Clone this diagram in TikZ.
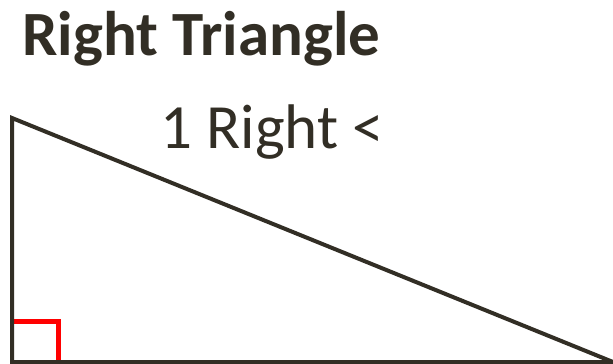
\documentclass[tikz,border=0pt]{standalone}
\usepackage{fontspec}
\setmainfont{Carlito}
\usepackage{tikz}
\definecolor{RTInk}{HTML}{322E25}
\definecolor{RTRed}{HTML}{FF0000}
\tikzset{
  edge/.style={draw=RTInk, line width=4pt, line join=miter},
  rightmark/.style={draw=RTRed, line width=5pt},
  title/.style={anchor=base west, text=RTInk, inner sep=0pt, font=\fontsize{63}{72}\selectfont\bfseries},
  label/.style={anchor=base west, text=RTInk, inner sep=0pt, font=\fontsize{63}{72}\selectfont},
}

\begin{document}
\begin{tikzpicture}[x=1pt,y=-1pt]
  \useasboundingbox[fill=white] (0,0) rectangle (613,364);
  \node[title] (heading) at (22,55) {Right Triangle};
  \node[label] (angles) at (160,148) {1 Right <};

  \coordinate (apex) at (12,118);
  \coordinate (corner) at (12,362);
  \coordinate (tip) at (613,362);
  \draw[rightmark] (corner |- 0,321) -| (58,362);
  \draw[edge] (apex) -- (corner) -- (tip) -- cycle;
\end{tikzpicture}
\end{document}
